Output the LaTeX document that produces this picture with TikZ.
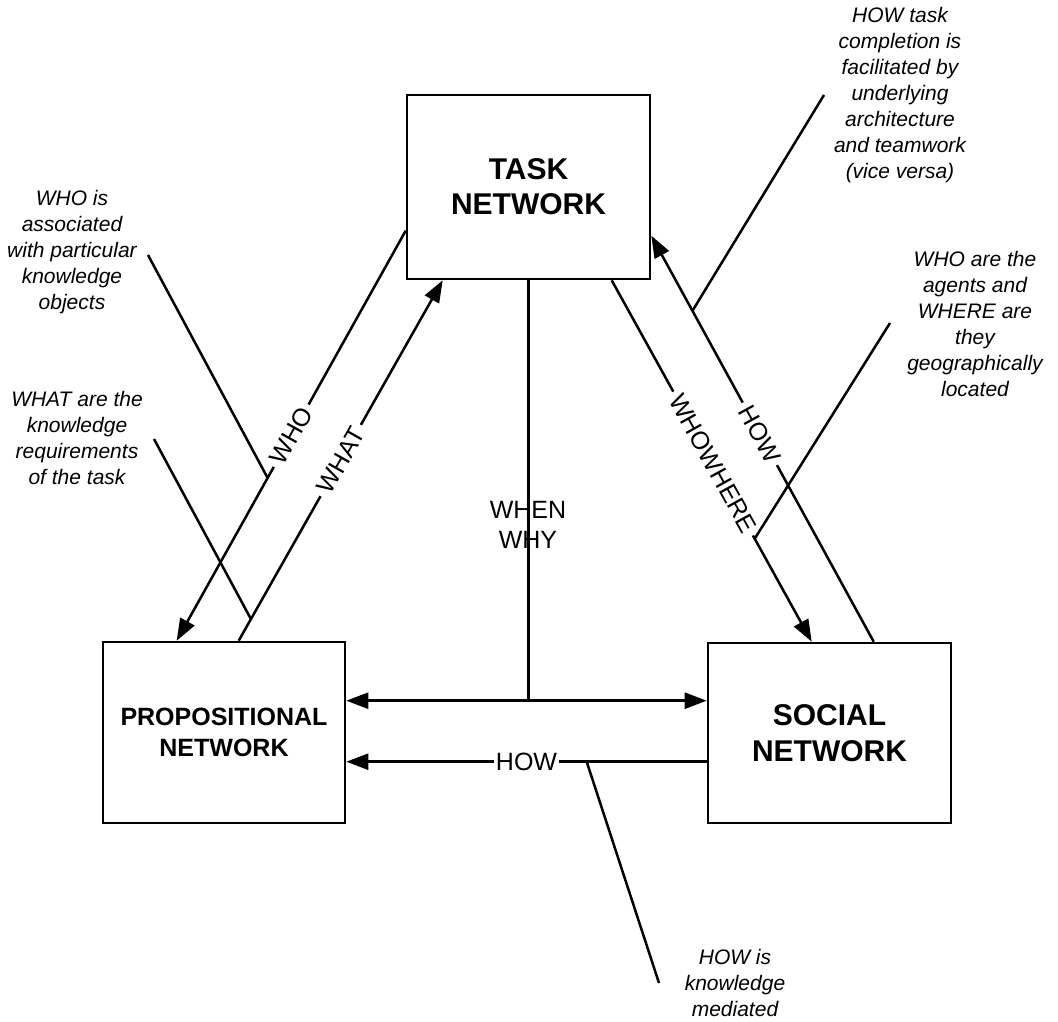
\documentclass[tikz,border=0pt]{standalone}
\usepackage{fontspec}
\setmainfont{Liberation Sans}
\usetikzlibrary{arrows.meta,calc}

\begin{document}
\begin{tikzpicture}[x=1pt,y=-1pt,
  netbox/.style={draw, line width=2.6pt, align=center, inner sep=0pt, font=\bfseries},
  link/.style={line width=2.5pt},
  arr/.style={link, -{Triangle[length=22pt,width=16pt]}},
  lbl/.style={fill=white, inner xsep=5pt, inner ysep=1pt, font=\fontsize{25}{30}\selectfont},
  note/.style={align=center, font=\itshape\fontsize{21}{26}\selectfont},
  pointer/.style={line width=2.5pt}]
\useasboundingbox (0,0) rectangle (1058,1021);

% the three networks
\node[netbox, minimum width=243pt, minimum height=184pt,
      font=\bfseries\fontsize{30}{35}\selectfont] (task) at (528.5,187) {TASK\\NETWORK};
\node[netbox, minimum width=242pt, minimum height=181pt,
      font=\bfseries\fontsize{25}{31}\selectfont] (prop) at (224,732.5) {PROPOSITIONAL\\NETWORK};
\node[netbox, minimum width=243pt, minimum height=180pt,
      font=\bfseries\fontsize{30}{36}\selectfont] (social) at (829.5,733) {SOCIAL\\NETWORK};

% attachment points on the boxes
\coordinate (whoA)  at ($(task.north west)+(0,137)$);
\coordinate (whoB)  at ($(prop.north west)+(75,0)$);
\coordinate (whatA) at ($(prop.north west)+(137,0)$);
\coordinate (whatB) at ($(task.south west)+(37,0)$);
\coordinate (wwA)   at ($(task.south west)+(206,0)$);
\coordinate (wwB)   at ($(social.north west)+(105,0)$);
\coordinate (howA)  at ($(social.north west)+(167,0)$);
\coordinate (howB)  at ($(task.north east)+(0,142)$);
\coordinate (dl)    at ($(prop.north east)+(0,60)$);
\coordinate (dr)    at (social.west |- dl);
\coordinate (hr)    at ($(social.north west)+(0,120)$);
\coordinate (hl)    at (prop.east |- hr);
\coordinate (wj)    at (task.south |- dl);

% connectors between the networks
\draw[arr] (whoA) -- node[lbl, sloped, pos=0.5] {WHO}
  coordinate[pos=0.603] (whoP) (whoB);
\draw[arr] (whatA) -- node[lbl, sloped, pos=0.5] {WHAT}
  coordinate[pos=0.06] (whatP) (whatB);
\draw[arr] (wwA) -- node[lbl, sloped, pos=0.507] {WHOWHERE}
  coordinate[pos=0.715] (wwP) (wwB);
\draw[arr] (howA) -- node[lbl, sloped, pos=0.512] {HOW}
  coordinate[pos=0.815] (howP) (howB);
\draw[link, {Triangle[length=22pt,width=16pt]}-{Triangle[length=22pt,width=16pt]}] (dl) -- (dr);
\draw[link] (task.south) -- (wj);
\node[font=\fontsize{25}{30}\selectfont, align=center] (ww) at (528,525) {WHEN\\WHY};
\draw[arr] (hr) -- node[lbl, inner xsep=2pt, pos=0.5] {HOW}
  coordinate[pos=0.333] (hbP) (hl);

% annotations
\node[note] (n1) at (72,252) {WHO is\\associated\\with particular\\knowledge\\objects};
\node[note] (n2) at (77,438) {WHAT are the\\knowledge\\requirements\\of the task};
\node[note] (n3) at (900,95) {HOW task\\completion is\\facilitated by\\underlying\\architecture\\and teamwork\\(vice versa)};
\node[note] (n4) at (975,324) {WHO are the\\agents and\\WHERE are\\they\\geographically\\located};
\node[note] (n5) at (735,983) {HOW is\\knowledge\\mediated};

\coordinate (p1) at (148,255);
\coordinate (p2) at (154,439);
\coordinate (p3) at (824,95);
\coordinate (p4) at (890,323);
\coordinate (p5) at (659,983);

\draw[pointer] (p1) -- (whoP);
\draw[pointer] (p2) -- (whatP);
\draw[pointer] (p3) -- (howP);
\draw[pointer] (p4) -- (wwP);
\draw[pointer] (p5) -- (hbP);
\end{tikzpicture}
\end{document}
